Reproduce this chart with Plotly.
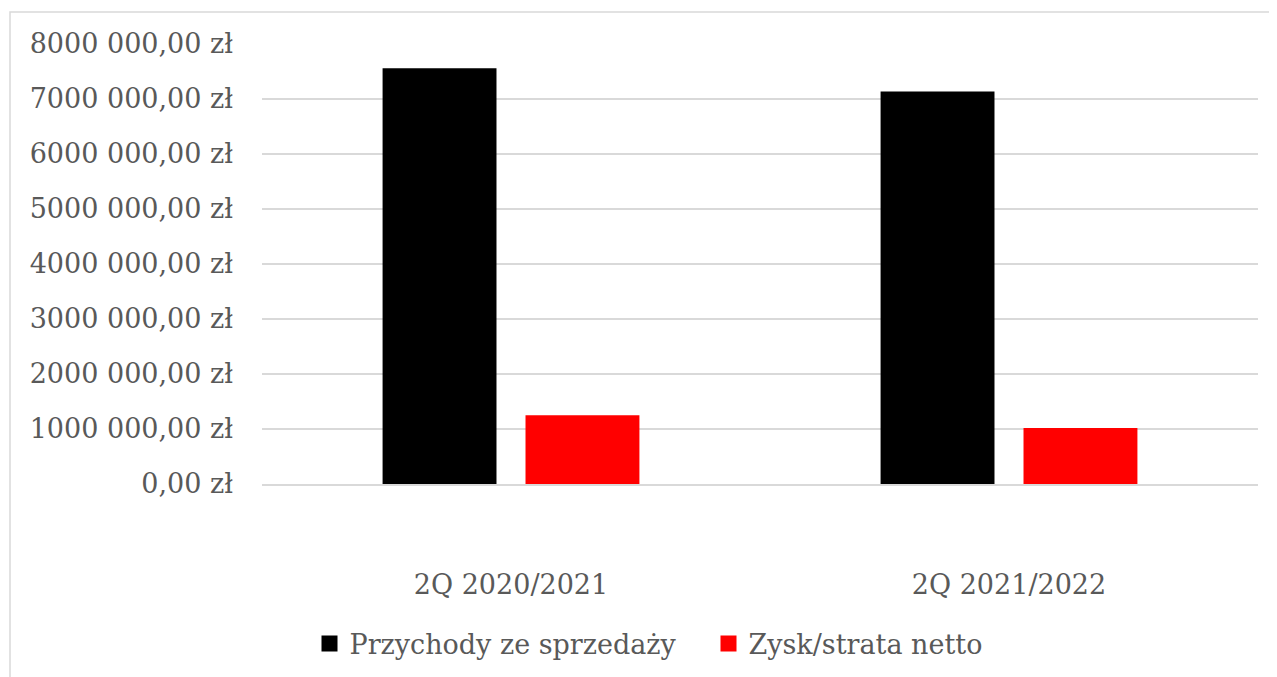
import plotly.graph_objects as go

categories = ["2Q 2020/2021", "2Q 2021/2022"]
series_names = ["Przychody ze sprzedaży", "Zysk/strata netto"]
przychody = [7560000, 7135000]
zysk = [1250000, 1020000]
colors = ["#000000", "#FF0000"]
y_tickvals = [0, 1000000, 2000000, 3000000, 4000000, 5000000, 6000000, 7000000, 8000000]
y_ticktext = ["0,00 zł", "1000 000,00 zł", "2000 000,00 zł", "3000 000,00 zł",
              "4000 000,00 zł", "5000 000,00 zł", "6000 000,00 zł", "7000 000,00 zł",
              "8000 000,00 zł"]

FONT = "DejaVu Serif"
TXT = "#595959"

OFF = 8  # page body margin
W, H = 1277 - OFF, 677 - OFF
L, R, T, B = 262 - OFF, 1258 - OFF, 44 - OFF, 484 - OFF

fig = go.Figure()
for name, vals, col in zip(series_names, [przychody, zysk], colors):
    fig.add_trace(go.Bar(x=categories, y=vals, name=name, marker=dict(color=col, line=dict(width=0)),
                         showlegend=False))
# legend-only markers (bigger squares)
for name, col in zip(series_names, colors):
    fig.add_trace(go.Scatter(x=[None], y=[None], mode="markers", name=name,
                             marker=dict(symbol="square", size=20, color=col)))

pw, ph = R - L, B - T
fig.add_shape(type="rect", xref="paper", yref="paper",
              x0=(10 - OFF - L) / pw, x1=(W + 20 - L) / pw,
              y0=(B - (12 - OFF)) / ph, y1=(B - (H + 20)) / ph,
              line=dict(color="#D9D9D9", width=1.5), fillcolor="rgba(0,0,0,0)", layer="below")

leg_left = 311.5 - OFF - 2
fig.update_layout(
    width=W, height=H,
    margin=dict(l=L, r=W - R, t=T, b=H - B, pad=0, autoexpand=False),
    paper_bgcolor="white", plot_bgcolor="white",
    barmode="group", bargap=0.426, bargroupgap=0.203,
    font=dict(family=FONT, size=27, color=TXT),
    showlegend=True,
    legend=dict(orientation="h", x=(leg_left - L) / pw, xanchor="left",
                y=(B - (644 - OFF)) / ph, yanchor="middle",
                font=dict(family=FONT, size=27, color=TXT),
                itemsizing="trace", tracegroupgap=0, itemwidth=30,
                entrywidth=354, entrywidthmode="pixels",
                bgcolor="rgba(0,0,0,0)"),
    xaxis=dict(showgrid=False, showline=True, linecolor="#D9D9D9", linewidth=1.5,
               ticks="", tickfont=dict(family=FONT, size=27, color=TXT),
               ticklabelstandoff=76, fixedrange=True),
    yaxis=dict(range=[0, 8000000], tickvals=y_tickvals, ticktext=y_ticktext,
               showgrid=True, gridcolor="#D9D9D9", gridwidth=1.5, zeroline=False,
               showline=False, ticks="", ticklabelstandoff=28,
               tickfont=dict(family=FONT, size=27, color=TXT)),
)

fig.write_html("out.html")
